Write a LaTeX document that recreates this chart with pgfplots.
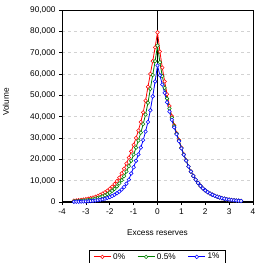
\documentclass[border=0pt]{standalone}
\usepackage{fontspec}
\setmainfont{Liberation Sans}
\usepackage{pgfplots}
\pgfplotsset{compat=1.18}
\begin{document}
\begin{tikzpicture}
\begin{axis}[
  scale only axis,
  width=191bp, height=192bp,
  xmin=-4, xmax=4, ymin=0, ymax=90000,
  xtick={-4,-3,...,4},
  ytick={0,10000,...,90000},
  scaled y ticks=false,
  /pgf/number format/assume math mode=true,
  /pgf/number format/1000 sep={,},
  tick label style={font=\fontsize{8.3}{10}\selectfont},
  label style={font=\fontsize{8.3}{10}\selectfont},
  tick align=outside,
  tick pos=left,
  major tick length=3bp,
  tick style={black, line width=0.6pt},
  axis line style={black, line width=0.7pt},
  ymajorgrids,
  major grid style={gray!35, dashed, line width=0.6pt},
  xlabel={Excess reserves},
  ylabel={Volume},
  xlabel style={at={(axis description cs:0.5,-0.161)}, anchor=center},
  ylabel style={at={(axis description cs:-0.293,0.52)}, anchor=center},
  legend style={at={(axis description cs:0.5,-0.25)}, anchor=north,
    legend columns=-1, draw=black, line width=0.5pt,
    font=\fontsize{8.3}{10}\selectfont, inner ysep=1pt, inner xsep=4bp,
    /tikz/every even column/.append style={column sep=10bp}},
  every axis plot/.append style={line width=0.8pt, mark=*, mark size=1.8pt},
]
\coordinate (ll) at (rel axis cs:0,0);
\coordinate (ur) at (rel axis cs:1,1);
\draw[black, line width=0.7pt] (axis cs:0,0) -- (axis cs:0,90000);
\addplot[red, mark options={fill=white, draw=red, line width=0.55pt}] table {
x y
-3.5 620
-3.4 720
-3.3 840
-3.2 980
-3.1 1140
-3.0 1330
-2.9 1550
-2.8 1800
-2.7 2100
-2.6 2450
-2.5 2850
-2.4 3350
-2.3 3900
-2.2 4550
-2.1 5300
-2.0 6200
-1.9 7200
-1.8 8400
-1.7 9800
-1.6 11400
-1.5 13400
-1.4 15600
-1.3 18000
-1.2 20800
-1.1 23700
-1.0 26800
-0.9 30000
-0.8 33500
-0.7 37500
-0.6 42000
-0.5 47500
-0.4 54000
-0.3 60000
-0.2 66000
-0.1 72500
0.0 79500
0.1 70500
0.2 63000
0.3 56500
0.4 50500
0.5 45000
0.6 40200
0.7 36000
0.8 32300
0.9 29000
1.0 25500
1.1 22300
1.2 19500
1.3 16630
1.4 14260
1.5 12220
1.6 10470
1.7 8910
1.8 7550
1.9 6410
2.0 5430
2.1 4630
2.2 3970
2.3 3400
2.4 2920
2.5 2500
2.6 2120
2.7 1800
2.8 1530
2.9 1300
3.0 1100
3.1 940
3.2 800
3.3 690
3.4 590
3.5 500
};
\addlegendentry{0\%}
\addplot[green!50!black, mark options={fill=white, draw=green!50!black, line width=0.55pt}] table {
x y
-3.5 340
-3.4 400
-3.3 470
-3.2 560
-3.1 660
-3.0 780
-2.9 920
-2.8 1100
-2.7 1300
-2.6 1550
-2.5 1850
-2.4 2200
-2.3 2600
-2.2 3100
-2.1 3700
-2.0 4400
-1.9 5200
-1.8 6150
-1.7 7300
-1.6 8700
-1.5 10200
-1.4 12100
-1.3 14300
-1.2 16800
-1.1 19300
-1.0 22200
-0.9 25500
-0.8 28800
-0.7 32500
-0.6 36500
-0.5 41000
-0.4 46500
-0.3 53000
-0.2 59500
-0.1 66000
0.0 73300
0.1 65500
0.2 59000
0.3 53500
0.4 48500
0.5 43800
0.6 39500
0.7 35600
0.8 32000
0.9 28800
1.0 25300
1.1 22200
1.2 19450
1.3 16630
1.4 14260
1.5 12220
1.6 10470
1.7 8910
1.8 7550
1.9 6410
2.0 5430
2.1 4630
2.2 3970
2.3 3400
2.4 2920
2.5 2500
2.6 2120
2.7 1800
2.8 1530
2.9 1300
3.0 1100
3.1 940
3.2 800
3.3 690
3.4 590
3.5 500
};
\addlegendentry{0.5\%}
\addplot[blue, mark options={fill=white, draw=blue, line width=0.55pt}] table {
x y
-3.5 110
-3.4 140
-3.3 170
-3.2 200
-3.1 250
-3.0 310
-2.9 380
-2.8 470
-2.7 570
-2.6 700
-2.5 850
-2.4 1040
-2.3 1270
-2.2 1550
-2.1 1900
-2.0 2300
-1.9 2800
-1.8 3400
-1.7 4100
-1.6 4900
-1.5 5800
-1.4 7000
-1.3 8600
-1.2 10500
-1.1 13400
-1.0 16300
-0.9 19300
-0.8 22300
-0.7 25500
-0.6 29000
-0.5 33000
-0.4 37500
-0.3 43000
-0.2 49500
-0.1 56500
0.0 64000
0.1 59390
0.2 55090
0.3 51130
0.4 46720
0.5 42400
0.6 38490
0.7 34980
0.8 31780
0.9 28520
1.0 25120
1.1 22130
1.2 19390
1.3 16630
1.4 14260
1.5 12220
1.6 10470
1.7 8910
1.8 7550
1.9 6410
2.0 5430
2.1 4630
2.2 3970
2.3 3400
2.4 2920
2.5 2500
2.6 2120
2.7 1800
2.8 1530
2.9 1300
3.0 1100
3.1 940
3.2 800
3.3 690
3.4 590
3.5 500
};
\addlegendentry{1\%}
\draw[black, line width=1.2pt] (axis cs:-4,0) -- (axis cs:4,0);
\end{axis}
\pgfresetboundingbox
\path[use as bounding box] ([shift={(-62bp,-61bp)}]ll) rectangle ([shift={(2bp,10bp)}]ur);
\end{tikzpicture}
\end{document}
